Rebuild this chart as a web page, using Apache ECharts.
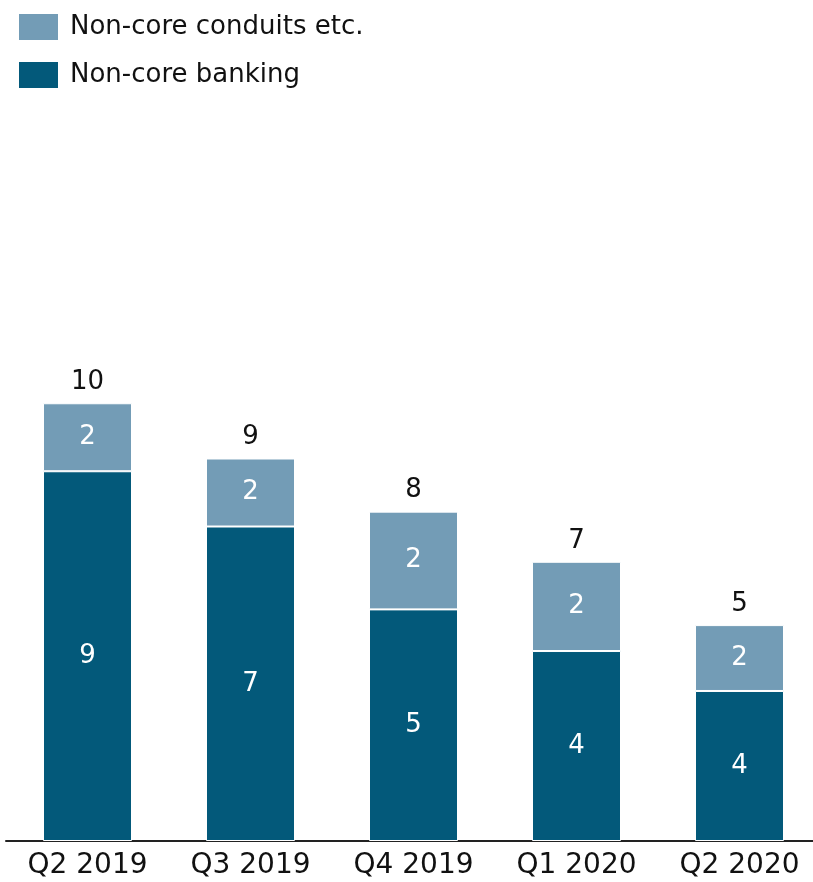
<!DOCTYPE html>
<html>
<head>
<meta charset="utf-8">
<script src="https://cdn.jsdelivr.net/npm/echarts@6/dist/echarts.min.js"></script>
<style>
html,body{margin:0;padding:0;background:#fff;overflow:hidden;}
#chart{width:821px;height:882px;}
</style>
</head>
<body>
<div id="chart"></div>
<script>
const categories = ['Q2 2019', 'Q3 2019', 'Q4 2019', 'Q1 2020', 'Q2 2020'];
const nonCoreBanking = [8.7, 7.4, 5.45, 4.47, 3.53];
const nonCoreConduits = [1.6, 1.6, 2.3, 2.1, 1.55];
const totals = categories.map((c, i) => nonCoreBanking[i] + nonCoreConduits[i]);

const FONT = 'DejaVu Sans';
const chart = echarts.init(document.getElementById('chart'));
chart.setOption({
  animation: false,
  backgroundColor: '#ffffff',
  textStyle: { fontFamily: FONT },
  legend: {
    orient: 'vertical',
    left: 17,
    top: 12,
    padding: 0,
    itemWidth: 41,
    itemHeight: 28,
    itemGap: 18,
    icon: 'rect',
    data: ['Non-core conduits etc.', 'Non-core banking'],
    textStyle: { fontFamily: FONT, fontSize: 26, color: '#111', padding: [2, 0, 0, 6] }
  },
  grid: { left: 6, right: 0, top: 161, bottom: 41, containLabel: false },
  xAxis: {
    type: 'category',
    data: categories,
    axisLine: { lineStyle: { color: '#222', width: 2 } },
    axisTick: { show: false },
    axisLabel: { fontFamily: FONT, fontSize: 28, color: '#111', margin: 11 }
  },
  yAxis: { type: 'value', min: 0, max: 16, show: false, splitLine: { show: false } },
  series: [
    {
      name: 'Non-core banking',
      type: 'bar',
      stack: 'a',
      barWidth: 89,
      data: nonCoreBanking,
      itemStyle: { color: '#03597a', borderColor: '#fff', borderWidth: 1 },
      label: { show: true, position: 'inside', color: '#fff', fontFamily: FONT, fontSize: 26,
        formatter: p => Math.round(p.value) }
    },
    {
      name: 'Non-core conduits etc.',
      type: 'bar',
      stack: 'a',
      barWidth: 89,
      data: nonCoreConduits,
      itemStyle: { color: '#739cb6', borderColor: '#fff', borderWidth: 1 },
      label: { show: true, position: 'inside', color: '#fff', fontFamily: FONT, fontSize: 26,
        formatter: p => Math.round(p.value) }
    },
    {
      name: 'total',
      type: 'bar',
      stack: 'a',
      barWidth: 89,
      data: totals.map(() => 0),
      itemStyle: { color: 'transparent' },
      label: { show: true, position: 'top', distance: 8, color: '#111', fontFamily: FONT, fontSize: 26,
        formatter: p => Math.round(totals[p.dataIndex]) }
    }
  ]
});
</script>
</body>
</html>
